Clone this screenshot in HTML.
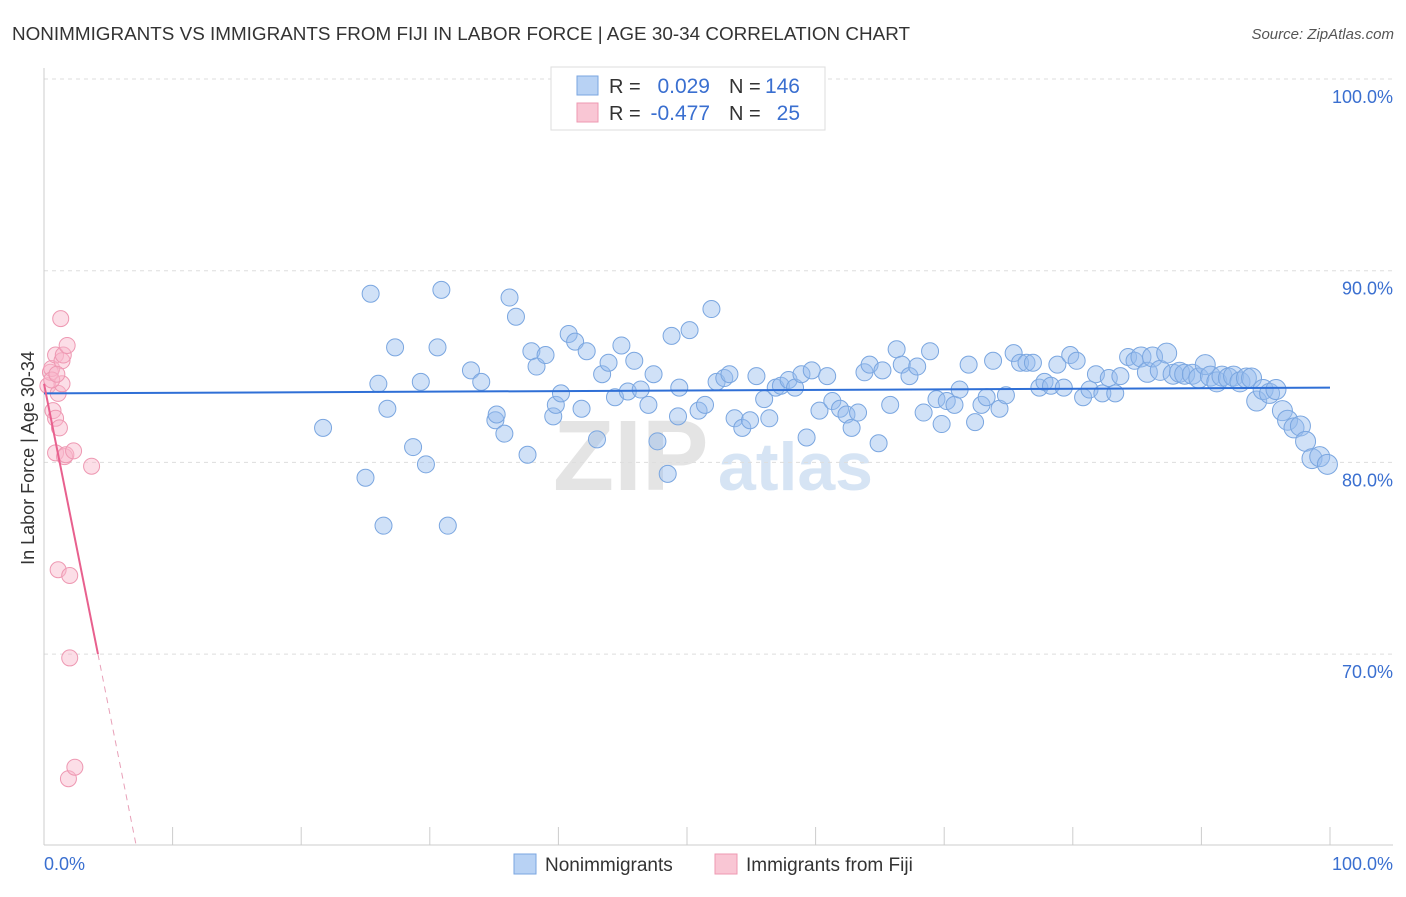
<!DOCTYPE html>
<html><head><meta charset="utf-8"><style>
body{margin:0;background:#fff;font-family:"Liberation Sans",sans-serif;}
svg text{font-family:"Liberation Sans",sans-serif;}
</style></head><body>
<svg id="chart" width="1406" height="892" viewBox="0 0 1406 892">
<text x="12" y="40" font-size="18" textLength="898" lengthAdjust="spacingAndGlyphs" fill="#333">NONIMMIGRANTS VS IMMIGRANTS FROM FIJI IN LABOR FORCE | AGE 30-34 CORRELATION CHART</text>
<text x="1394" y="39" font-size="15" fill="#555" text-anchor="end" font-style="italic">Source: ZipAtlas.com</text>
<text x="553" y="490" font-size="100" fill="#e4e4e4" font-family="Liberation Serif" font-weight="bold">ZIP</text>
<text x="718" y="490" font-size="68" fill="#d6e4f4" font-weight="bold">atlas</text>
<g id="grid"></g>
<g id="axes"></g>
<g id="pts"></g>
<g id="trend"></g>
<text transform="translate(34,458) rotate(-90)" font-size="18" fill="#333" text-anchor="middle">In Labor Force | Age 30-34</text>
<g>
<rect x="551" y="67" width="274" height="63" fill="#fff" stroke="#ddd"/>
<rect x="577" y="76" width="21" height="19" fill="#b8d2f4" stroke="#7aa6e0"/>
<rect x="577" y="103" width="21" height="19" fill="#f9c6d4" stroke="#ee98b2"/>
<text x="609" y="93" font-size="20" fill="#333">R =</text><text x="710" y="93" font-size="21" fill="#3a6fd0" text-anchor="end">0.029</text>
<text x="729" y="93" font-size="20" fill="#333">N =</text><text x="800" y="93" font-size="21" fill="#3a6fd0" text-anchor="end">146</text>
<text x="609" y="120" font-size="20" fill="#333">R =</text><text x="710" y="120" font-size="21" fill="#3a6fd0" text-anchor="end">-0.477</text>
<text x="729" y="120" font-size="20" fill="#333">N =</text><text x="800" y="120" font-size="21" fill="#3a6fd0" text-anchor="end">25</text>
</g>
<g>
<rect x="514" y="854" width="22" height="20" fill="#b8d2f4" stroke="#7aa6e0"/>
<text x="545" y="871" font-size="19" fill="#333">Nonimmigrants</text>
<rect x="715" y="854" width="22" height="20" fill="#f9c6d4" stroke="#ee98b2"/>
<text x="746" y="871" font-size="19" fill="#333">Immigrants from Fiji</text>
</g>
</svg>
<script>
const yTicks=[100,90,80,70];
const yTickLabels=["100.0%","90.0%","80.0%","70.0%"];
const xTickLabels=["0.0%","100.0%"];
const blueX=[21.7,25.0,25.4,26.0,26.4,26.7,27.3,28.7,29.3,29.7,30.6,30.9,31.4,33.2,34.0,35.1,35.2,35.8,36.2,36.7,37.6,37.9,38.3,39.0,39.6,39.8,40.2,40.8,41.3,41.8,42.2,43.0,43.4,43.9,44.4,44.9,45.4,45.9,46.4,47.0,47.4,47.7,48.5,48.8,49.3,49.4,50.2,50.9,51.4,51.9,52.3,52.9,53.3,53.7,54.3,54.9,55.4,56.0,56.4,56.9,57.3,57.9,58.4,58.9,59.3,59.7,60.3,60.9,61.3,61.9,62.4,62.8,63.3,63.8,64.2,64.9,65.2,65.8,66.3,66.7,67.3,67.9,68.4,68.9,69.4,69.8,70.2,70.8,71.2,71.9,72.4,72.9,73.3,73.8,74.3,74.8,75.4,75.9,76.4,76.9,77.4,77.8,78.3,78.8,79.3,79.8,80.3,80.8,81.3,81.8,82.3,82.8,83.3,83.7,84.3,84.8,85.3,85.8,86.2,86.8,87.3,87.8,88.3,88.7,89.3,89.8,90.3,90.7,91.2,91.6,92.1,92.5,93.0,93.5,93.9,94.3,94.8,95.3,95.8,96.3,96.7,97.2,97.7,98.1,98.6,99.2,99.8];
const blueY=[81.8,79.2,88.8,84.1,76.7,82.8,86.0,80.8,84.2,79.9,86.0,89.0,76.7,84.8,84.2,82.2,82.5,81.5,88.6,87.6,80.4,85.8,85.0,85.6,82.4,83.0,83.6,86.7,86.3,82.8,85.8,81.2,84.6,85.2,83.4,86.1,83.7,85.3,83.8,83.0,84.6,81.1,79.4,86.6,82.4,83.9,86.9,82.7,83.0,88.0,84.2,84.4,84.6,82.3,81.8,82.2,84.5,83.3,82.3,83.9,84.0,84.3,83.9,84.6,81.3,84.8,82.7,84.5,83.2,82.8,82.5,81.8,82.6,84.7,85.1,81.0,84.8,83.0,85.9,85.1,84.5,85.0,82.6,85.8,83.3,82.0,83.2,83.0,83.8,85.1,82.1,83.0,83.4,85.3,82.8,83.5,85.7,85.2,85.2,85.2,83.9,84.2,84.0,85.1,83.9,85.6,85.3,83.4,83.8,84.6,83.6,84.4,83.6,84.5,85.5,85.3,85.5,84.7,85.5,84.8,85.7,84.6,84.7,84.6,84.6,84.4,85.1,84.5,84.2,84.5,84.4,84.5,84.2,84.4,84.4,83.2,83.8,83.6,83.8,82.7,82.2,81.8,81.9,81.1,80.2,80.3,79.9];
const pinkX=[0.3,0.5,0.6,0.7,0.9,0.9,0.9,1.1,1.1,1.2,1.3,1.4,1.4,1.5,1.6,1.7,1.8,1.9,2.0,2.0,2.3,2.4,3.7,0.6,1.0];
const pinkY=[84.0,84.7,84.9,82.7,82.3,80.5,85.6,83.6,74.4,81.8,87.5,84.1,85.3,85.6,80.3,80.4,86.1,63.5,74.1,69.8,80.6,64.1,79.8,84.3,84.6];
const blueTrend=[83.6,83.9];
const pinkTrend=[84.1,-3.36];
const NS="http://www.w3.org/2000/svg";
const X=v=>44+v*12.86, Y=v=>79+(100-v)*19.17;
function mk(tag,attrs,parent){const e=document.createElementNS(NS,tag);for(const k in attrs)e.setAttribute(k,attrs[k]);document.getElementById(parent).appendChild(e);return e;}
yTicks.forEach((t,i)=>{
 const l=mk('line',{x1:44,x2:1393,y1:Y(t),y2:Y(t),stroke:'#ddd','stroke-dasharray':'4,4'},'grid');
 
 
 const tx=mk('text',{x:1393,y:Y(t)+24,'font-size':18,fill:'#3a6fd0','text-anchor':'end'},'grid');tx.textContent=yTickLabels[i];
 
 
});
const ax=mk('line',{x1:44,x2:44,y1:68,y2:845,stroke:'#ccc'},'axes');


const bx=mk('line',{x1:44,x2:1393,y1:845,y2:845,stroke:'#ccc'},'axes');


for(let i=0;i<=10;i++){const t=mk('line',{x1:X(i*10),x2:X(i*10),y1:827,y2:845,stroke:'#ccc'},'axes');
 
 }
[[0,'start',44],[100,'end',1393]].forEach((d,i)=>{const t=mk('text',{x:d[2],y:870,'font-size':18,fill:'#3a6fd0','text-anchor':d[1]},'axes');t.textContent=xTickLabels[i];
 
 });
blueX.forEach((x,i)=>{const c=mk('circle',{cx:X(x),cy:Y(blueY[i]),r:x>85?10:8.5,fill:'rgba(150,188,238,0.45)',stroke:'#7aa6e0','stroke-width':1},'pts');
 
 });
pinkX.forEach((x,i)=>{const c=mk('circle',{cx:X(x),cy:Y(pinkY[i]),r:8,fill:'rgba(248,182,202,0.45)',stroke:'#ee98b2','stroke-width':1},'pts');
 
 });
const bl=mk('line',{x1:X(0),y1:Y(blueTrend[0]),x2:X(100),y2:Y(blueTrend[1]),stroke:'#2f6fd6','stroke-width':2},'trend');


const px=(70-pinkTrend[0])/pinkTrend[1], pe=(60-pinkTrend[0])/pinkTrend[1];
const pl=mk('line',{x1:X(0),y1:Y(pinkTrend[0]),x2:X(px),y2:Y(70),stroke:'#e8608e','stroke-width':2},'trend');


const pd=mk('line',{x1:X(px),y1:Y(70),x2:X(pe),y2:Y(60),stroke:'#e8a0b8','stroke-width':1,'stroke-dasharray':'6,5'},'trend');


</script>
</body></html>
